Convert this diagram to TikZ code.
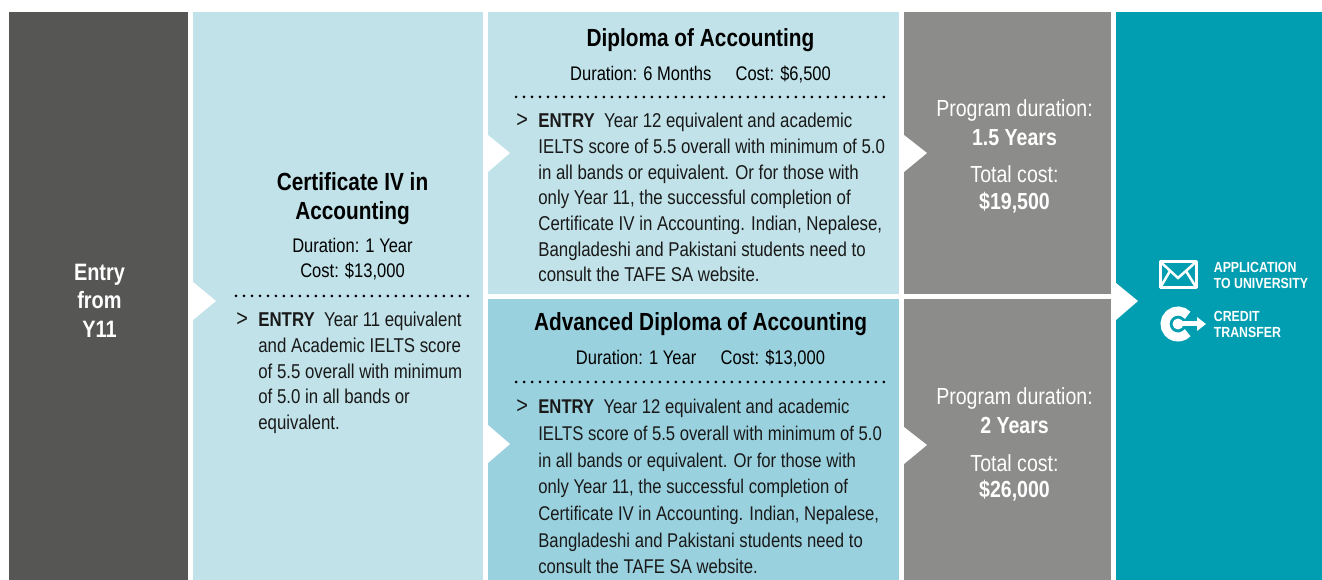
\documentclass[tikz,border=0pt]{standalone}
\usepackage{fontspec}
\setmainfont[FakeStretch=0.84]{Liberation Sans}
\definecolor{darkpanel}{HTML}{565655}
\definecolor{lightpanel}{HTML}{C0E2E8}
\definecolor{midpanel}{HTML}{9AD1DE}
\definecolor{greypanel}{HTML}{8C8D8B}
\definecolor{tealpanel}{HTML}{009EB0}
\tikzset{
  titletext/.style={align=center,font=\fontsize{14.1}{16.6}\selectfont\bfseries,text=black},
  subtext/.style={align=center,font=\fontsize{11.2}{14.5}\selectfont,text=black},
  bodytext/.style={align=left,inner sep=0pt,anchor=north west,font=\fontsize{11.4}{14.6}\selectfont,text=black!90},
  widebody/.style={bodytext,font=\fontsize{11.3}{15.2}\selectfont},
  marktext/.style={bodytext,font=\fontsize{13.5}{14.6}\selectfont},
  sidetext/.style={align=center,text=white,font=\fontsize{13.25}{16}\selectfont},
  sidebold/.style={align=center,text=white,font=\fontsize{13.25}{16}\selectfont\bfseries},
  smalltext/.style={align=left,inner sep=0pt,anchor=west,text=white,font=\fontsize{8.35}{9.2}\selectfont\bfseries},
  dotrule/.style={line width=0.06cm,line cap=round,dash pattern=on 0pt off 0.16cm,black},
}
\begin{document}
\begin{tikzpicture}[x=0.02cm,y=-0.02cm]
\useasboundingbox (0,0) rectangle (1322,580);

% Drawing panels
\fill [darkpanel] (9,12) rectangle (188,580);%
\fill [lightpanel] (193,12) rectangle (483,580);%
\fill [lightpanel] (488,12) rectangle (899,294);%
\fill [midpanel] (488,299) rectangle (899,580);%
\fill [greypanel] (904,12) rectangle (1111,294);%
\fill [greypanel] (904,299) rectangle (1111,580);%
\fill [tealpanel] (1116,12) rectangle (1322,580);%

% Marking panel arrows
\fill [white] (193,282) -- (216,301) -- (193,320) -- cycle;%
\fill [white] (488,135) -- (510,153) -- (488,172) -- cycle;%
\fill [white] (488,425) -- (510,444) -- (488,463) -- cycle;%
\fill [white] (904,135) -- (927,153) -- (904,172) -- cycle;%
\fill [white] (904,427) -- (927,445) -- (904,464) -- cycle;%
\fill [white] (1116,283) -- (1138,301) -- (1116,320) -- cycle;%

% Marking entry panel
\node (entry) [sidebold,font=\fontsize{13.5}{16.2}\selectfont\bfseries] at (99.5,300.5) {Entry\\from\\Y11};%

% Marking certificate panel
\node (certtitle) [titletext] at (352.5,198.5) {Certificate IV in\\Accounting};%
\node (certsub) [subtext] at (352.5,259) {Duration: 1 Year\\Cost: \$13,000};%
\coordinate (certruleA) at (236,296);%
\coordinate (certruleB) at (471,296);%
\draw [dotrule] (certruleA) -- (certruleB);%
\node (certmark) [marktext] at (236,312) {>};%
\node (certbody) [bodytext] at (258,312) {\textbf{ENTRY}\ \ Year 11 equivalent\\and Academic IELTS score\\of 5.5 overall with minimum\\of 5.0 in all bands or\\equivalent.};%

% Marking diploma panel
\node (diptitle) [titletext] at (700.5,40) {Diploma of Accounting};%
\node (dipsub) [subtext] at (700.5,74) {Duration: 6 Months\quad\ Cost: \$6,500};%
\coordinate (dipruleA) at (516,97);%
\coordinate (dipruleB) at (888,97);%
\draw [dotrule] (dipruleA) -- (dipruleB);%
\node (dipmark) [marktext] at (516,113) {>};%
\node (dipbody) [bodytext] at (538,113) {\textbf{ENTRY}\ \ Year 12 equivalent and academic\\IELTS score of 5.5 overall with minimum of 5.0\\in all bands or equivalent. Or for those with\\only Year 11, the successful completion of\\Certificate IV in Accounting. Indian, Nepalese,\\Bangladeshi and Pakistani students need to\\consult the TAFE SA website.};%

% Marking advanced diploma panel
\node (advtitle) [titletext] at (700.5,324) {Advanced Diploma of Accounting};%
\node (advsub) [subtext] at (700.5,358) {Duration: 1 Year\quad\ Cost: \$13,000};%
\coordinate (advruleA) at (516,382);%
\coordinate (advruleB) at (888,382);%
\draw [dotrule] (advruleA) -- (advruleB);%
\node (advmark) [marktext] at (516,399) {>};%
\node (advbody) [widebody] at (538,399) {\textbf{ENTRY}\ \ Year 12 equivalent and academic\\IELTS score of 5.5 overall with minimum of 5.0\\in all bands or equivalent. Or for those with\\only Year 11, the successful completion of\\Certificate IV in Accounting. Indian, Nepalese,\\Bangladeshi and Pakistani students need to\\consult the TAFE SA website.};%

% Marking program totals
\node (dipduration) [sidetext] at (1014.5,110) {Program duration:};%
\node (dipyears) [sidebold] at (1014.5,137.5) {1.5 Years};%
\node (dipcost) [sidetext] at (1014.5,174) {Total cost:};%
\node (diptotal) [sidebold] at (1014.5,203) {\$19,500};%
\node (advduration) [sidetext] at (1014.5,398) {Program duration:};%
\node (advyears) [sidebold] at (1014.5,425.5) {2 Years};%
\node (advcost) [sidetext] at (1014.5,463) {Total cost:};%
\node (advtotal) [sidebold] at (1014.5,491) {\$26,000};%

% Drawing envelope
\draw [white,line width=0.06cm,line join=round] (1160,261.5) rectangle (1196.5,288);%
\draw [white,line width=0.05cm] (1160,261.5) -- (1178,278) -- (1196.5,261.5);%
\draw [white,line width=0.05cm] (1160,288) -- (1170,271);%
\draw [white,line width=0.05cm] (1196.5,288) -- (1186,271);%
\node (apply) [smalltext] at (1213.5,275.5) {APPLICATION\\TO UNIVERSITY};%

% Drawing credit arrow
\draw [white,line width=0.18cm] (1178,324) ++(-42:13) arc (-42:-318:13);%
\fill [white] (1178,324) circle (5.5);%
\draw [white,line width=0.1cm] (1178,324) -- (1198,324);%
\fill [white] (1197,317) -- (1206,324) -- (1197,331) -- cycle;%
\node (credit) [smalltext] at (1213.5,324.5) {CREDIT\\TRANSFER};%
\end{tikzpicture}
\end{document}
